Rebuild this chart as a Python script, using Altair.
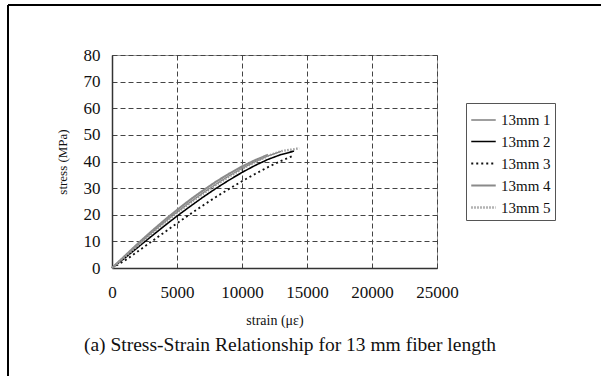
import altair as alt
import pandas as pd

series_names = ["13mm 1", "13mm 2", "13mm 3", "13mm 4", "13mm 5"]

strain_1 = [0, 1000, 2000, 3000, 4000, 5000, 6000, 7000, 8000, 9000, 10000, 11000, 12000, 13000]
stress_1 = [0, 4.3, 8.7, 13.0, 17.1, 21.0, 24.7, 28.2, 31.5, 34.6, 37.4, 39.9, 42.1, 43.8]

strain_2 = [0, 1000, 2000, 3000, 4000, 5000, 6000, 7000, 8000, 9000, 10000, 11000, 12000, 13000, 14000]
stress_2 = [0, 3.8, 7.8, 11.8, 15.7, 19.5, 23.1, 26.6, 29.9, 33.0, 35.9, 38.5, 40.8, 42.6, 43.9]

strain_3 = [0, 1000, 2000, 3000, 4000, 5000, 6000, 7000, 8000, 9000, 10000, 11000, 12000, 13000, 14000]
stress_3 = [0, 2.8, 6.3, 9.8, 13.3, 16.8, 20.2, 23.5, 26.7, 29.7, 32.6, 35.3, 37.9, 40.2, 42.3]

strain_4 = [0, 1000, 2000, 3000, 4000, 5000, 6000, 7000, 8000, 9000, 10000, 11000, 12000]
stress_4 = [0, 4.6, 9.2, 13.6, 17.8, 21.8, 25.6, 29.1, 32.4, 35.4, 38.1, 40.5, 42.5]

strain_5 = [0, 1000, 2000, 3000, 4000, 5000, 6000, 7000, 8000, 9000, 10000, 11000, 12000, 13000, 14000, 14400]
stress_5 = [0, 4.2, 8.5, 12.7, 16.8, 20.7, 24.4, 27.9, 31.2, 34.3, 37.2, 39.8, 42.1, 43.9, 44.6, 45.0]

x_ticks = [0, 5000, 10000, 15000, 20000, 25000]
y_ticks = [0, 10, 20, 30, 40, 50, 60, 70, 80]

caption = ["(a) Stress-Strain Relationship for 13 mm fiber length"]

rows = []
for name, xs, ys in zip(series_names,
                        [strain_1, strain_2, strain_3, strain_4, strain_5],
                        [stress_1, stress_2, stress_3, stress_4, stress_5]):
    for i, (a, b) in enumerate(zip(xs, ys)):
        rows.append({"series": name, "strain": a, "stress": b, "order": i})
df = pd.DataFrame(rows)

FONT = "Liberation Serif"
colors = ["#808080", "#000000", "#111111", "#8a8a8a", "#9a9a9a"]
dashes = [[1, 0], [1, 0], [2, 3], [1, 0], [1.5, 1.5]]
widths = [1.3, 2.4, 2.0, 1.3, 1.0]

leg = alt.Legend(
    title=None, orient="none", legendX=354, legendY=48,
    strokeColor="#555555", fillColor="white", padding=4,
    symbolType="stroke", symbolSize=600, labelFont=FONT, labelFontSize=15,
    labelColor="#111111", labelOffset=4, rowPadding=0,
)

lines = alt.Chart(df).mark_line().encode(
    x=alt.X("strain:Q", scale=alt.Scale(domain=[0, 25000], nice=False),
            axis=alt.Axis(values=x_ticks, title="strain (με)", format="d",
                          labelFlush=False, labelOverlap=False)),
    y=alt.Y("stress:Q", scale=alt.Scale(domain=[0, 80], nice=False),
            axis=alt.Axis(values=y_ticks, title="stress (MPa)", labelFlush=False,
                          labelOverlap=False)),
    color=alt.Color("series:N", scale=alt.Scale(domain=series_names, range=colors), legend=leg),
    strokeDash=alt.StrokeDash("series:N", scale=alt.Scale(domain=series_names, range=dashes), legend=leg),
    strokeWidth=alt.StrokeWidth("series:N", scale=alt.Scale(domain=series_names, range=widths), legend=leg),
    order="order:Q",
)

one = pd.DataFrame({"a": [0]})
frame_top = alt.Chart(one).mark_rule(color="black", strokeWidth=2).encode(
    x=alt.value(-104), x2=alt.value(489), y=alt.value(-50))
frame_left = alt.Chart(one).mark_rule(color="black", strokeWidth=2).encode(
    x=alt.value(-104), y=alt.value(-50), y2=alt.value(321))

cap = alt.Chart(pd.DataFrame({"caption": caption})).mark_text(
    font=FONT, fontSize=19.5, color="#111111", align="center", baseline="middle"
).encode(text="caption:N", x=alt.value(178), y=alt.value(290))

chart = alt.layer(lines, frame_top, frame_left, cap).properties(
    width=325, height=213,
    autosize="none",
    padding={"left": 112, "top": 55, "right": 164, "bottom": 108},
).configure_view(
    stroke="#999999", strokeWidth=1
).configure_axis(
    grid=True, gridColor="#444444", gridDash=[5, 3], gridWidth=1,
    domainColor="#333333", domainWidth=1.5, ticks=False,
    labelFont=FONT, labelFontSize=17, labelColor="#111111",
    titleFont=FONT, titleFontWeight="normal", titleColor="#111111",
).configure_axisX(
    labelPadding=16, titleFontSize=14, titlePadding=13
).configure_axisY(
    labelPadding=12, titleFontSize=13, titlePadding=14
)

chart.save("out.html", embed_options={"renderer": "svg", "actions": False})
